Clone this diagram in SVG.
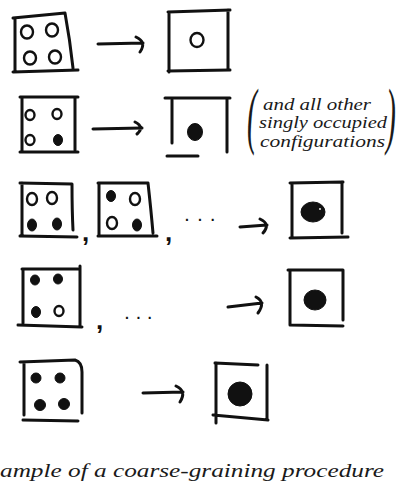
<svg xmlns="http://www.w3.org/2000/svg" width="397" height="503" viewBox="0 0 397 503">
<style>
.box{fill:none;stroke:#111;stroke-width:3;stroke-linecap:round;stroke-linejoin:round}
.open{fill:none;stroke:#111;stroke-width:2.4}
.full{fill:#111;stroke:#111;stroke-width:1}
.arrow{fill:none;stroke:#111;stroke-width:3;stroke-linecap:round;stroke-linejoin:round}
.hand{font-family:"Liberation Serif","DejaVu Serif",serif;font-style:italic;fill:#1a1a1a}
.mark{font-family:"Liberation Sans","DejaVu Sans",sans-serif;font-weight:bold;fill:#111}
</style>
<rect width="397" height="503" fill="#fff"/>

<g id="row1-fine">
<path class="box" d="M15 18 L15 72 M13 18 L65 13 Q70 40 73 68 M13 72 L78 70"/>
<ellipse class="open" cx="27" cy="32" rx="6" ry="6.5"/>
<ellipse class="open" cx="52" cy="30" rx="6" ry="6.5"/>
<ellipse class="open" cx="30" cy="58" rx="6" ry="6.5"/>
<ellipse class="open" cx="55" cy="57" rx="6" ry="6.5"/>
</g>
<g id="row1-coarse">
<path class="box" d="M168 12 L230 10 M169 12 L169 72 M228 10 L228 68 M168 71 L230 70"/>
<ellipse class="open" cx="197" cy="40" rx="6.5" ry="7"/>
</g>

<g id="row2-fine">
<path class="box" d="M20 97 L78 97 M22 97 L22 152 M75 97 L75 150 M20 152 L78 152"/>
<ellipse class="open" cx="30" cy="115" rx="4.5" ry="5"/>
<ellipse class="open" cx="57" cy="114" rx="4.5" ry="5"/>
<ellipse class="open" cx="30" cy="140" rx="4.5" ry="5"/>
<ellipse class="full" cx="58" cy="140" rx="4.5" ry="5.5"/>
</g>
<g id="row2-coarse">
<path class="box" d="M165 98 L230 98 M172 100 L172 143 M227 98 L227 152 M167 156 L198 156"/>
<ellipse class="full" cx="195" cy="132" rx="7.5" ry="8.5"/>
</g>
<g id="row2-note">
<text class="hand" transform="translate(247,140) scale(0.4,1)" font-size="74">(</text>
<text class="hand" x="263" y="110" font-size="16" textLength="108" lengthAdjust="spacingAndGlyphs">and all other</text>
<text class="hand" x="259" y="128" font-size="16" textLength="128" lengthAdjust="spacingAndGlyphs">singly occupied</text>
<text class="hand" x="260" y="147" font-size="16" textLength="125" lengthAdjust="spacingAndGlyphs">configurations</text>
<text class="hand" transform="translate(386,140) scale(0.4,1)" font-size="74">)</text>
</g>

<g id="row3-fine-a">
<path class="box" d="M22 183 L22 235 M20 183 L72 184 Q72 210 73 230 M20 236 L77 237"/>
<ellipse class="open" cx="32" cy="199" rx="5" ry="6"/>
<ellipse class="open" cx="52" cy="198" rx="5" ry="6"/>
<ellipse class="full" cx="32" cy="225" rx="4.5" ry="6"/>
<ellipse class="full" cx="57" cy="224" rx="4.5" ry="6"/>
</g>
<text class="mark" x="82" y="241" font-size="26">,</text>
<g id="row3-fine-b">
<path class="box" d="M99 183 L99 235 M98 183 L148 183 Q151 210 153 233 M98 236 L157 236"/>
<ellipse class="full" cx="111" cy="196" rx="4.5" ry="5.5"/>
<ellipse class="open" cx="135" cy="199" rx="5" ry="6"/>
<ellipse class="open" cx="112" cy="223" rx="5" ry="6"/>
<ellipse class="full" cx="137" cy="225" rx="4.5" ry="6"/>
</g>
<text class="mark" x="165" y="241" font-size="26">,</text>
<text class="mark" x="185" y="221" font-size="14" letter-spacing="9">...</text>
<g id="row3-coarse">
<path class="box" d="M290 183 L343 182 M292 183 L292 237 M342 182 L342 233 M290 238 L348 237"/>
<ellipse class="full" cx="313" cy="212" rx="12" ry="10"/>
<circle cx="320" cy="209" r="0.9" fill="#fff"/>
</g>

<g id="row4-fine">
<path class="box" d="M22 269 L78 269 M23 269 L23 323 M80 266 L80 325 M18 325 L82 327"/>
<ellipse class="full" cx="35" cy="280" rx="4.5" ry="5"/>
<ellipse class="full" cx="58" cy="279" rx="4.5" ry="5"/>
<ellipse class="full" cx="36" cy="312" rx="4.5" ry="5.5"/>
<ellipse class="open" cx="59" cy="311" rx="4.5" ry="5"/>
</g>
<text class="mark" x="96" y="329" font-size="26">,</text>
<text class="mark" x="125" y="319" font-size="14" letter-spacing="7.5">...</text>
<g id="row4-coarse">
<path class="box" d="M288 270 L343 270 M290 270 L290 325 M343 270 L343 320 M290 325 L343 326"/>
<ellipse class="full" cx="315" cy="300" rx="11" ry="10"/>
</g>

<g id="row5-fine">
<path class="box" d="M20 362 L75 360 Q82 362 82 372 L82 413 M24 362 L24 415 M23 420 L78 421"/>
<circle class="full" cx="36" cy="378" r="5"/>
<circle class="full" cx="60" cy="378" r="5"/>
<circle class="full" cx="40" cy="405" r="5.5"/>
<circle class="full" cx="64" cy="404" r="5.5"/>
</g>
<g id="row5-coarse">
<path class="box" d="M215 363 L258 365 M267 365 L267 420 M216 363 L216 423 M213 415 L268 420"/>
<circle class="full" cx="240" cy="394" r="12"/>
</g>

<g id="connectors">
<path class="arrow" d="M98 44 L143 43 M136 37 Q147 42 140 52"/>
<path class="arrow" d="M93 129 L142 128 M135 122 Q145 127 137 134"/>
<path class="arrow" d="M240 227 L267 225 M260 219 Q271 224 263 233"/>
<path class="arrow" d="M228 307 L262 303 M256 297 Q266 302 258 313"/>
<path class="arrow" d="M143 393 L183 392 M176 386 Q187 391 180 402"/>
</g>

<text class="hand" x="0" y="477" font-size="19" textLength="384" lengthAdjust="spacingAndGlyphs">ample of a coarse-graining procedure</text>
</svg>
